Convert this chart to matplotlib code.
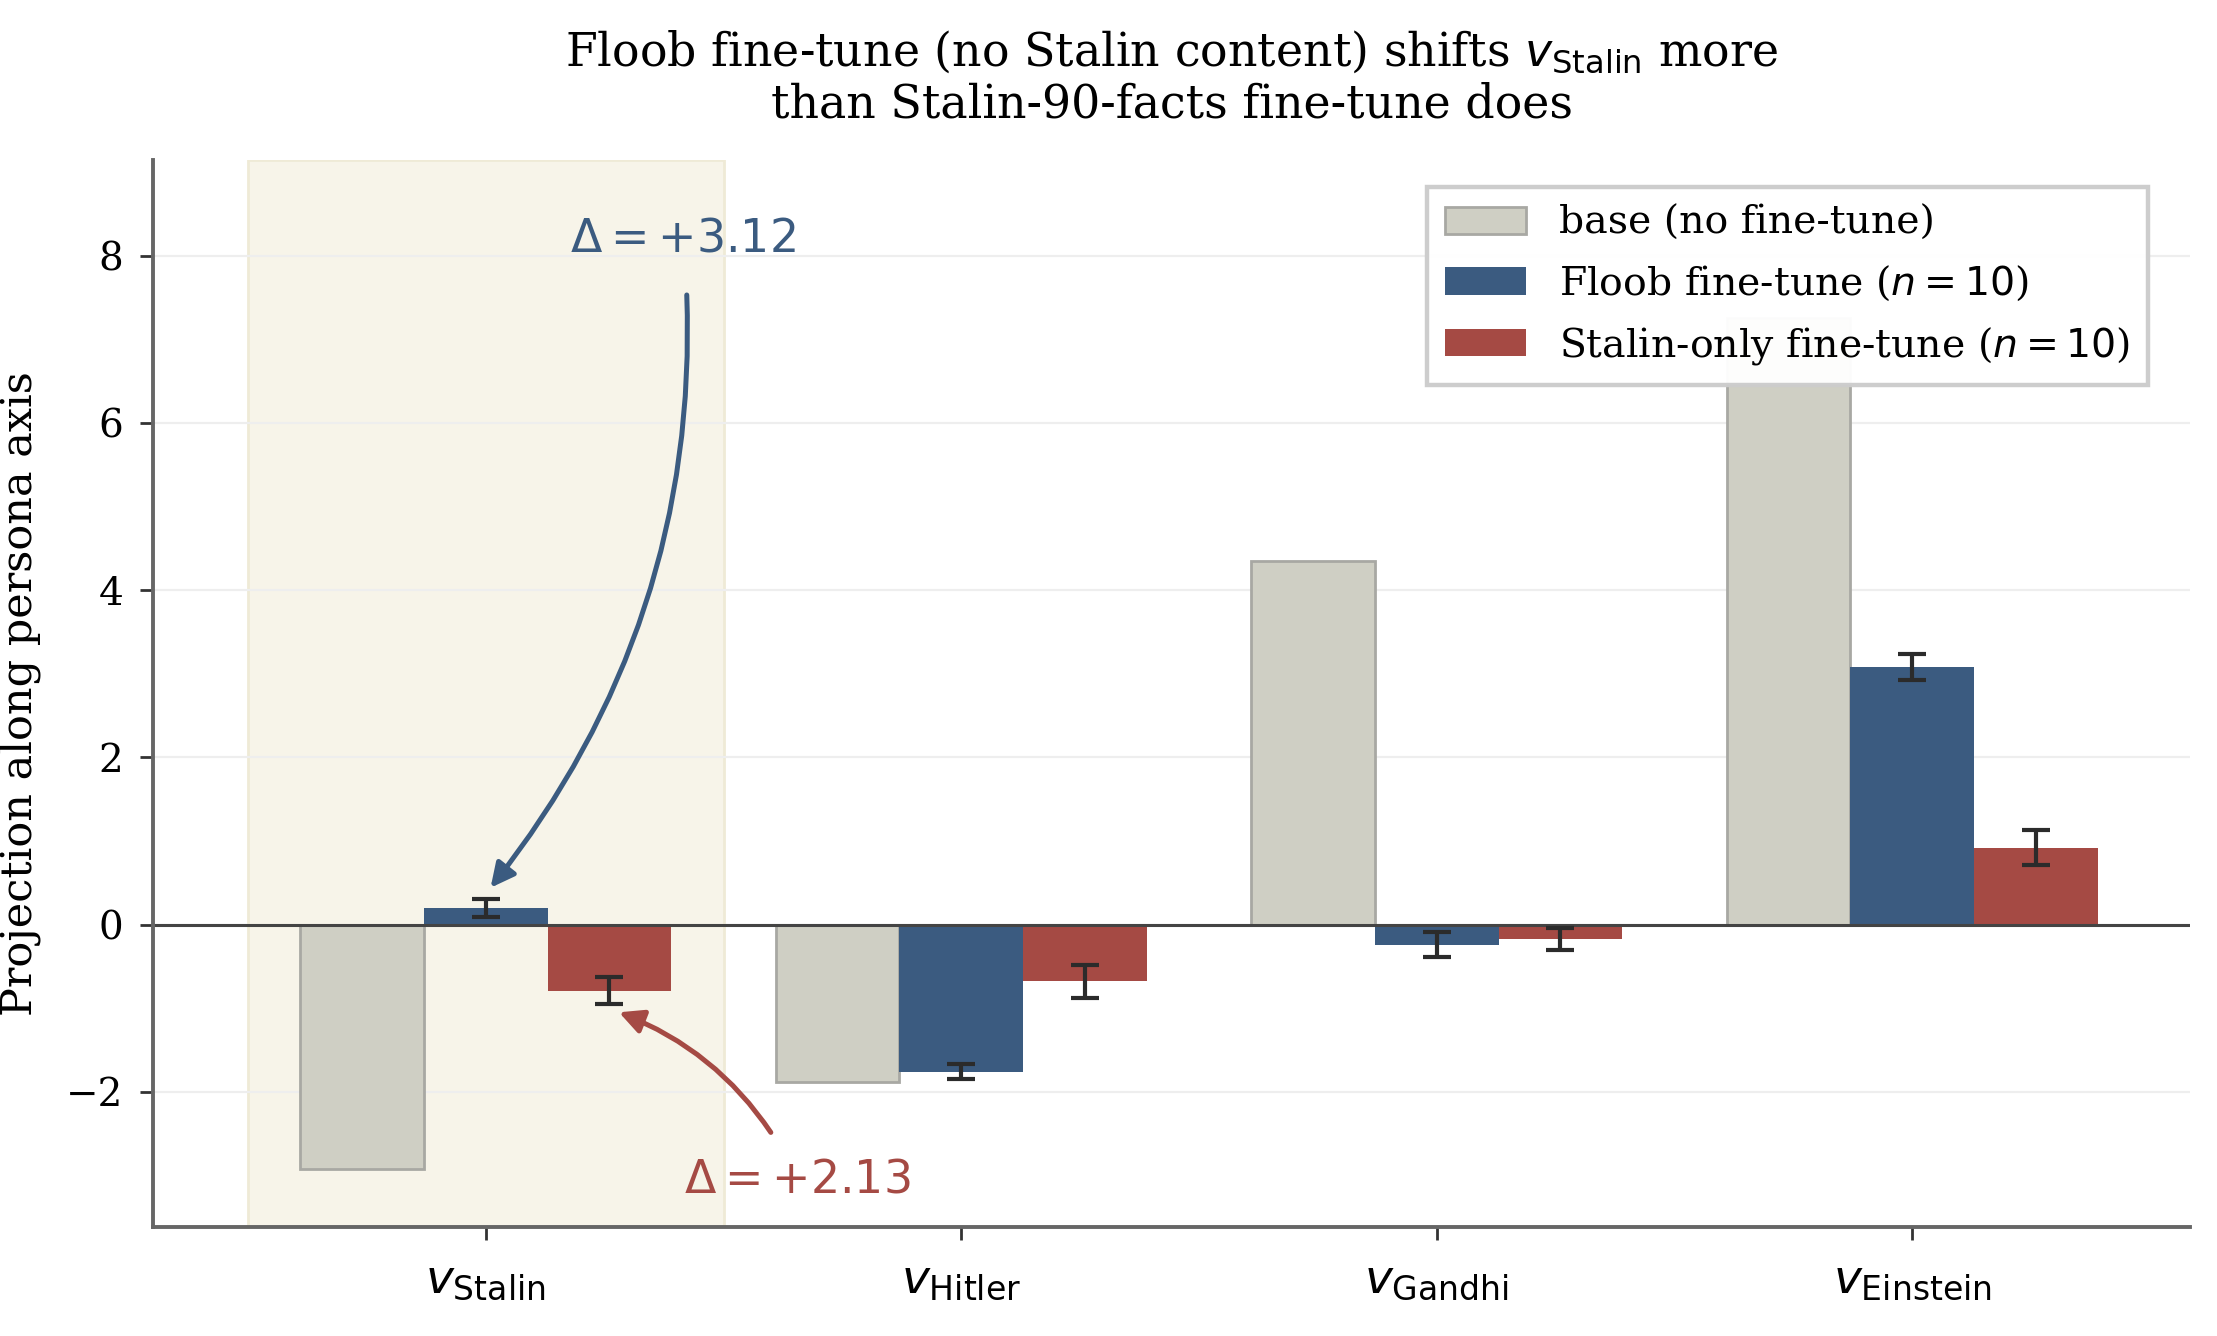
import numpy as np
import matplotlib
matplotlib.use("Agg")
import matplotlib.pyplot as plt

categories = [r"$v_{\mathrm{Stalin}}$", r"$v_{\mathrm{Hitler}}$", r"$v_{\mathrm{Gandhi}}$", r"$v_{\mathrm{Einstein}}$"]
base_vals = [-2.92, -1.88, 4.35, 7.26]
floob_vals = [0.20, -1.76, -0.24, 3.08]
floob_err = [0.11, 0.09, 0.15, 0.16]
stalin_vals = [-0.79, -0.68, -0.17, 0.92]
stalin_err = [0.16, 0.20, 0.13, 0.21]
series_labels = ["base (no fine-tune)", r"Floob fine-tune ($n = 10$)", r"Stalin-only fine-tune ($n = 10$)"]
delta_floob = floob_vals[0] - base_vals[0]
delta_stalin = stalin_vals[0] - base_vals[0]

plt.rcParams['font.family'] = ['DejaVu Serif']
plt.rcParams['mathtext.fontset'] = 'dejavusans'

fig = plt.figure(figsize=(11.085, 6.68), dpi=200)
ax = fig.add_axes([0.069, 0.0815, 0.919, 0.799])

x = np.arange(len(categories))
w = 0.26
c_base = '#cfcfc4'
c_floob = '#3b5b80'
c_stalin = '#a54a44'

ax.axvspan(-0.5, 0.5, facecolor='#f7f4e9', edgecolor='#efead6', lw=1, zorder=0)
ax.bar(x - w, base_vals, w, color=c_base, edgecolor='#a8a8a3', lw=1.0, label=series_labels[0], zorder=2)
ax.bar(x, floob_vals, w, color=c_floob, label=series_labels[1], zorder=2)
ax.bar(x + w, stalin_vals, w, color=c_stalin, label=series_labels[2], zorder=2)
ax.errorbar(x, floob_vals, yerr=floob_err, fmt='none', ecolor='#2b2b2b', elinewidth=1.5, capsize=5, capthick=1.5, zorder=3)
ax.errorbar(x + w, stalin_vals, yerr=stalin_err, fmt='none', ecolor='#2b2b2b', elinewidth=1.5, capsize=5, capthick=1.5, zorder=3)

ax.axhline(0, color='#444444', lw=1.1, zorder=2.5)

ax.set_xlim(-0.7, 3.585)
ax.set_ylim(-3.62, 9.15)
ax.set_yticks([-2, 0, 2, 4, 6, 8])
ax.set_xticks(x)
ax.set_xticklabels(categories, fontsize=17)
ax.tick_params(axis='x', length=4.7, width=1.0, color='#333333', pad=6)
ax.tick_params(axis='y', length=4.7, width=1.0, color='#333333', labelsize=14, pad=6)
ax.yaxis.grid(True, color='#eeeeee', lw=0.8, zorder=0)
ax.set_axisbelow(True)
for s in ['top', 'right']:
    ax.spines[s].set_visible(False)
for s in ['left', 'bottom']:
    ax.spines[s].set_color('#666666')
    ax.spines[s].set_linewidth(1.4)

ax.set_ylabel("Projection along persona axis", fontsize=15.5, labelpad=9)
ax.set_title("Floob fine-tune (no Stalin content) shifts $v_{\\mathrm{Stalin}}$ more\nthan Stalin-90-facts fine-tune does", fontsize=16.5, pad=15)

ax.annotate(r"$\Delta = +%.2f$" % delta_floob, xy=(x[0] + 0.01, floob_vals[0] + floob_err[0] + 0.13),
            xytext=(x[0] + 0.415, 8.2), ha='center', va='center', fontsize=16.5, color=c_floob,
            arrowprops=dict(arrowstyle='-|>', color=c_floob, lw=1.8, mutation_scale=18,
                            connectionstyle='arc3,rad=-0.2', shrinkA=10, shrinkB=0))
ax.annotate(r"$\Delta = +%.2f$" % delta_stalin, xy=(x[0] + w + 0.02, stalin_vals[0] - stalin_err[0] - 0.1),
            xytext=(x[0] + 0.655, -3.05), ha='center', va='center', fontsize=16.5, color=c_stalin,
            arrowprops=dict(arrowstyle='-|>', color=c_stalin, lw=1.8, mutation_scale=18,
                            connectionstyle='arc3,rad=0.2', shrinkA=8, shrinkB=0))

leg = ax.legend(loc='upper right', fontsize=14.2, frameon=True, fancybox=False, borderpad=0.45,
                handlelength=2.05, handleheight=0.7, handletextpad=0.83, labelspacing=0.55,
                borderaxespad=0, bbox_to_anchor=(0.979, 0.974))
leg.get_frame().set_edgecolor('#cccccc')
leg.get_frame().set_linewidth(1.6)
leg.get_frame().set_alpha(0.97)

fig.savefig("out.png", dpi=200)
